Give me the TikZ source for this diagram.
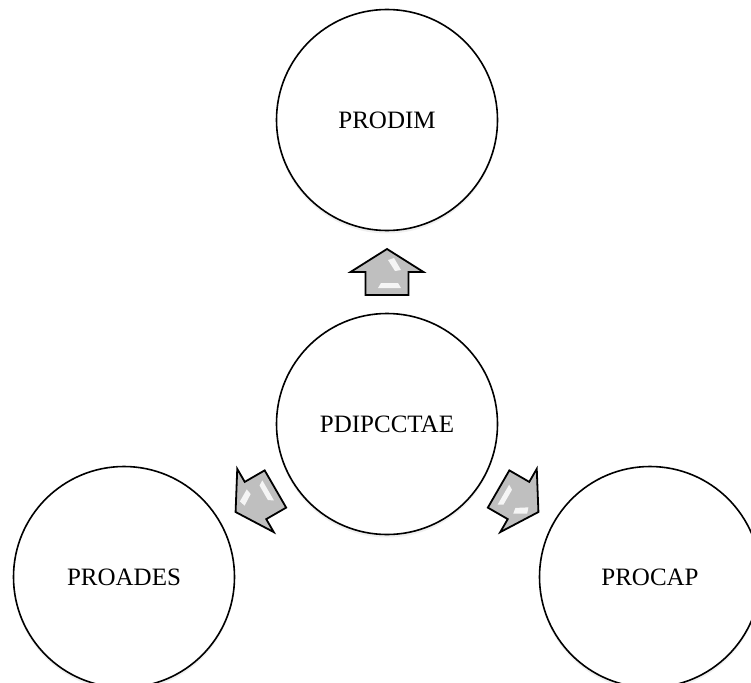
\documentclass[tikz,border=0pt]{standalone}
\usepackage{fontspec}
\setmainfont{Liberation Serif}
\usepackage{tikz}
\usetikzlibrary{positioning,calc,shadows}

\tikzset{
  stage/.style={circle, draw=black, line width=1.6pt, fill=white,
    minimum size=221pt, inner sep=0pt,
    font=\fontsize{25}{30}\selectfont,
    drop shadow={opacity=0.12, shadow xshift=0pt, shadow yshift=-3pt}},
  pics/flowarrow/.style={code={
    \draw[line width=1.8pt, fill=gray!50, line join=miter]
      (0,-23) -- (36.5,0) -- (21.5,0) -- (21.5,23) -- (-21.5,23)
      -- (-21.5,0) -- (-36.5,0) -- cycle;
    \fill[white, opacity=0.85] (1,-12) -- (7,-14) -- (14,-2) -- (8,-1) -- cycle;
    \fill[white, opacity=0.85] (-9,16) -- (14,16) -- (11,11) -- (-6,11) -- cycle;
  }}
}

\begin{document}
\begin{tikzpicture}[x=1pt, y=-1pt]
    \useasboundingbox (0,0) rectangle (751,682);

    % Circles
    \node[stage] (prodim) at (387,120) {PRODIM};
    \node[stage] (pdip) at (387,424) {PDIPCCTAE};
    \node[stage] (proades) at (124,577) {PROADES};
    \node[stage] (procap) at (650,577) {PROCAP};

    % Arrows
    \pic at ($(pdip)!0.5!(prodim)$) {flowarrow};
    \pic[rotate=120] at ($(pdip)!0.5!(proades)$) {flowarrow};
    \pic[rotate=-120] at ($(pdip)!0.5!(procap)$) {flowarrow};
\end{tikzpicture}
\end{document}
